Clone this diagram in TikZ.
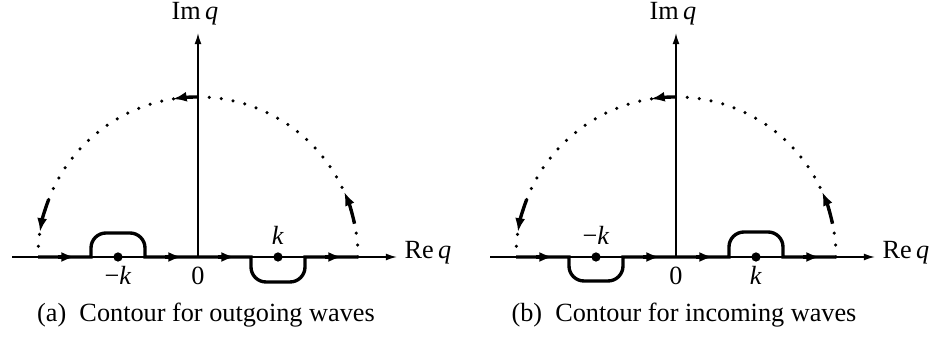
\documentclass[tikz,border=0pt]{standalone}
\usepackage{fontspec}
\setmainfont{Liberation Serif}
\usetikzlibrary{arrows.meta}

\begin{document}
\begin{tikzpicture}[x=0.4pt, y=0.4pt,
    axis/.style={line width=0.6pt, -{Latex[length=4.5pt, width=2.8pt]}},
    contour/.style={line width=1.35pt},
    flow/.style={line width=1.35pt, -{Latex[length=5.5pt, width=4pt]}},
    loop/.style={line width=1.4pt, line cap=round, dash pattern=on 0pt off 4.8pt},
    pole/.style={circle, fill, inner sep=0pt, minimum size=3.7pt},
    lbl/.style={inner sep=0pt, font=\fontsize{10.5}{12}\selectfont},
]
\useasboundingbox (0,0) rectangle (935,338);

\foreach \p/\dx/\s/\kind in {a/198/1/outgoing, b/676/-1/incoming} {
\begin{scope}[shift={(\dx,81)}]
  % axes
  \coordinate (o\p) at (0,0);
  \coordinate (w\p) at (-186,0);
  \coordinate (e\p) at (199,0);
  \coordinate (n\p) at (0,224);
  \draw[axis] (w\p) -- (e\p);
  \draw[axis] (o\p) -- (n\p);
  \node[lbl, anchor=base west] (re\p) at (206,-2) {Re\,\textit{q}};
  \node[lbl, anchor=base] (im\p) at (-3,237) {Im\,\textit{q}};
  \node[lbl, anchor=base] (zero\p) at (0,-28) {0};

  % poles at -k and k
  \node[pole] (mk\p) at (-80,0) {};
  \node[pole] (pk\p) at (80,0) {};
  \node[lbl, anchor=base] (mkl\p) at (-80,{-8-20*\s}) {−\textit{k}};
  \node[lbl, anchor=base] (pkl\p) at (80,{-8+20*\s}) {\textit{k}};

  % contour along the real axis
  \draw[contour] (-160,0) -- (-107,0) -- (-107,{9*\s})
    arc (180:{180-90*\s}:15) -- (-68,{24*\s})
    arc ({180-90*\s}:{180-180*\s}:15) -- (-53,0) -- (53,0)
    -- (53,{-10*\s}) arc (180:{180+90*\s}:15) -- (92,{-25*\s})
    arc ({180+90*\s}:{180+180*\s}:15) -- (107,0) -- (160,0);
  \draw[flow] (-140,0) -- (-123,0);
  \draw[flow] (-33,0) -- (-16,0);
  \draw[flow] (20,0) -- (37,0);
  \draw[flow] (127,0) -- (144,0);

  % closing arc
  \draw[loop] (o\p) ++(0:160) arc (0:180:160);
  \draw[flow] (o\p) ++(12:160) arc (12:24:160);
  \draw[flow] (o\p) ++(90:160) arc (90:99:160);
  \draw[flow] (o\p) ++(159:160) arc (159:171:160);

  \node[lbl, anchor=base] (cap\p) at (8,-65) {(\p)~ Contour for \kind\ waves};
\end{scope}
}
\end{tikzpicture}
\end{document}
